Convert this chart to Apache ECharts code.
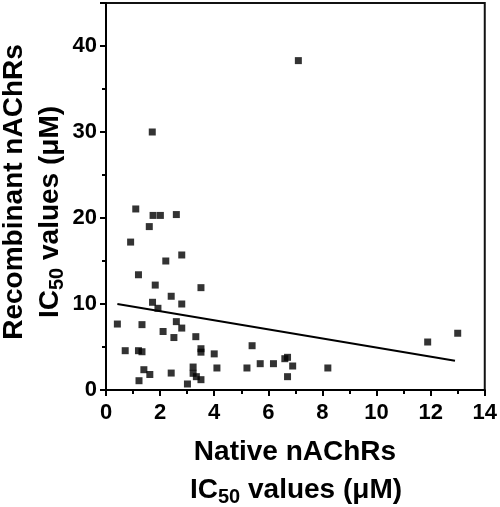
<!DOCTYPE html>
<html><head><meta charset="utf-8">
<script src="https://cdn.jsdelivr.net/npm/echarts@6/dist/echarts.min.js"></script>
<style>html,body{margin:0;padding:0;background:#fff}#c{width:500px;height:507px}</style>
</head><body><div id="c"></div>
<script>
// Native nAChRs IC50 (x) vs Recombinant nAChRs IC50 (y), µM
var nativeIC50 = [1.10,1.74,2.01,2.60,1.60,0.91,2.21,2.80,1.20,1.82,3.51,2.41,1.72,1.92,2.80,0.42,1.33,2.60,2.80,2.11,2.51,3.32,0.71,1.20,1.33,3.51,3.51,4.00,5.40,1.40,1.62,2.41,3.22,3.22,3.34,3.51,1.22,3.01,4.10,5.21,5.70,6.19,6.61,6.71,6.90,6.71,8.20,11.89,13.0,1.71,7.11];
var recombIC50 = [21.05,20.3,20.3,20.4,19.0,17.2,15.0,15.7,13.4,12.2,11.9,10.9,10.2,9.5,10.0,7.67,7.6,7.95,7.2,6.8,6.1,6.2,4.57,4.57,4.45,4.8,4.4,4.2,5.15,2.36,1.8,1.97,2.67,1.94,1.55,1.2,1.08,0.7,2.56,2.56,3.06,3.06,3.64,3.8,2.79,1.55,2.56,5.58,6.6,30.0,38.3];
var fitX = [0.42, 12.9];
var fitY = [10.0, 3.4];
var xTicks = [0,2,4,6,8,10,12,14];
var yTicks = [0,10,20,30,40];

var FF = 'Liberation Sans';
var pts = nativeIC50.map(function(v,i){return [v, recombIC50[i]];});
var fit = fitX.map(function(v,i){return [v, fitY[i]];});
var rich = {
  b:{fontSize:28,fontWeight:'bold',fontFamily:FF,color:'#000'},
  s:{fontSize:20,fontWeight:'bold',fontFamily:FF,color:'#000',padding:[15,0,0,0]}
};
var chart = echarts.init(document.getElementById('c'), null, {renderer:'canvas'});
chart.setOption({
  animation:false,
  backgroundColor:'#fff',
  grid:{left:106,right:14,top:3,bottom:117,show:true,borderColor:'#111',borderWidth:2,backgroundColor:'transparent'},
  xAxis:{type:'value',min:0,max:14,interval:2,
    axisLine:{onZero:false,lineStyle:{color:'#000',width:2}},
    axisTick:{show:true,length:6,lineStyle:{color:'#000',width:2}},
    minorTick:{show:true,splitNumber:2,length:4,lineStyle:{color:'#000',width:2}},
    splitLine:{show:false},
    axisLabel:{margin:12,fontSize:22,fontWeight:'bold',fontFamily:FF,color:'#000',
      formatter:function(v){return xTicks.indexOf(v)>=0?String(v):'';}}
  },
  yAxis:{type:'value',min:0,max:45,interval:10,
    axisLine:{onZero:false,lineStyle:{color:'#000',width:2}},
    axisTick:{show:true,length:6,lineStyle:{color:'#000',width:2}},
    minorTick:{show:true,splitNumber:2,length:4,lineStyle:{color:'#000',width:2}},
    splitLine:{show:false},
    axisLabel:{margin:9,fontSize:22,fontWeight:'bold',fontFamily:FF,color:'#000',showMaxLabel:false,
      formatter:function(v){return yTicks.indexOf(v)>=0?String(v):'';}}
  },
  graphic:[
    {type:'text',x:295,y:452,style:{text:'{b|Native nAChRs}',rich:rich,align:'center',verticalAlign:'middle'}},
    {type:'text',x:296,y:490,style:{text:'{b|IC}{s|50}{b| values (μM)}',rich:rich,align:'center',verticalAlign:'middle'}},
    {type:'text',x:14,y:192,rotation:Math.PI/2,style:{text:'{b|Recombinant nAChRs}',rich:rich,align:'center',verticalAlign:'middle'}},
    {type:'text',x:50,y:212,rotation:Math.PI/2,style:{text:'{b|IC}{s|50}{b| values (μM)}',rich:rich,align:'center',verticalAlign:'middle'}}
  ],
  series:[
    {type:'scatter',data:pts,symbol:'rect',symbolSize:7,itemStyle:{color:'#000'},z:3},
    {type:'line',data:fit,symbol:'none',lineStyle:{color:'#000',width:2},z:2}
  ]
});
</script></body></html>
